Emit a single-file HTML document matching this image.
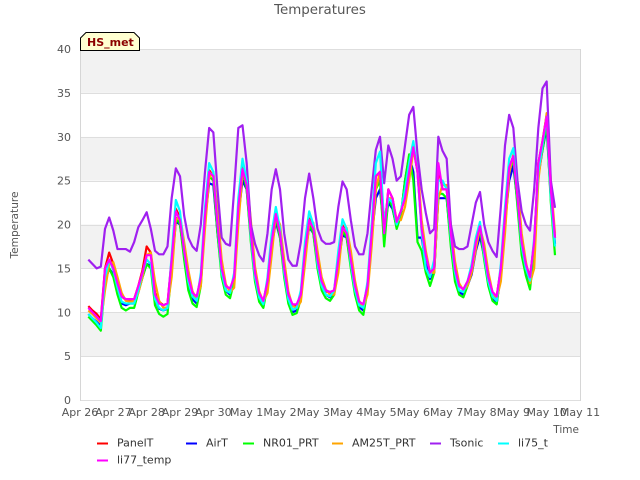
<!DOCTYPE html>
<html>
<head>
<meta charset="utf-8">
<title>Temperatures</title>
<style>
html,body{margin:0;padding:0;background:#fff;}
svg{display:block;font-family:"DejaVu Sans","Liberation Sans",sans-serif;}
</style>
</head>
<body>
<svg id="chart" width="640" height="480" viewBox="0 0 640 480" xmlns="http://www.w3.org/2000/svg">
  <text x="320" y="14" text-anchor="middle" font-size="13.4" fill="#555">Temperatures</text>
  <g id="bands"></g>
  <g id="grid"></g>
  <g id="series"></g>
  <g id="ticks" font-size="11" fill="#555"></g>
  <text x="0" y="0" transform="translate(18,225) rotate(-90)" text-anchor="middle" font-size="10.6" fill="#555">Temperature</text>
  <text x="579" y="433" text-anchor="end" font-size="10.5" fill="#555">Time</text>
  <g>
    <polygon points="80.5,50.5 80.5,38 86,32.5 134,32.5 139.5,38 139.5,50.5" fill="#ffffd0" stroke="#000" stroke-width="1"/>
    <text x="87" y="46" font-size="11" font-weight="bold" fill="#8b0000">HS_met</text>
  </g>
  <g id="legend" font-size="11" fill="#333"></g>
</svg>
<script>
var xTickLabels = ["Apr 26","Apr 27","Apr 28","Apr 29","Apr 30","May 1","May 2","May 3","May 4","May 5","May 6","May 7","May 8","May 9","May 10","May 11"];
var yTickValues = [0,5,10,15,20,25,30,35,40];
var seriesNames = ["PanelT","AirT","NR01_PRT","AM25T_PRT","Tsonic","li75_t","li77_temp"];
var seriesColors = ["#ff0000","#0000ff","#00ff00","#ffa500","#a020f0","#00ffff","#ff00ff"];
var firstSampleDay = 0.25;
var sampleStepDays = 0.125;

var panelT = [
10.7,10.2,9.8,9.2,15,16.8,15.5,13.3,11.8,11.4,
11.4,11.5,13,14.8,17.5,16.8,12.2,11.2,10.8,11,
16,21.8,20.8,17,13.8,12,11.6,14,21,26.2,
25.5,20,15,13,12.5,14,22,26.6,24.5,19,
14.5,12,11.2,13.5,18,21.5,19,15,12,10.8,
10.8,12,17,20.7,19.5,16,13.4,12.4,12.2,12.5,
16,19.9,19,16,13,11.1,10.8,13,19,25.5,
26,19,24,23,20.3,21.5,23,26,28.8,26,
19.5,16.5,14.5,15,26.5,24,24,19,15,13,
12.6,13.5,15,18,19.8,17,14,12.3,11.8,15,
21,26.5,27.8,23,18,15.5,14,18,27,29.5,
32.5,24,18.5];
var airT = [
9.8,9.3,8.9,8.4,13.5,15,14.3,12.5,11,10.8,
11,11,12.3,14,15.5,15.3,11.5,10.4,10.2,10.4,
15,20.3,20,16.5,13,11.5,11,13.5,20.5,24.7,
24.5,19,14.5,12.5,12,13.5,21,25,24,18.5,
14,11.6,10.9,13.2,17.5,20.3,18.5,14.5,11.5,10,
10.2,11.8,16.5,19.7,19,15.5,13,12,11.7,12.2,
15.5,18.8,18.5,15.5,12.5,10.6,10.2,12.7,18.5,23,
24,19.2,22.5,21.8,19.7,21,25,27.8,26,18.5,
18.5,15.5,13.8,14.5,23,23,23,18,14,12.3,
12,13,14.3,17,18.7,16.3,13.3,11.5,11,14.3,
20,25,26.7,22.5,17,14.8,13.3,17,25.5,28.5,
31,23,17.8];
var nr01 = [
9.5,9,8.5,7.9,13.5,15,14,12,10.5,10.2,
10.5,10.5,12.3,14,15.5,15,10.8,9.8,9.5,9.8,
15,20.8,20,16,12.5,11,10.6,13,20.5,25.5,
25,19,14,12,11.6,13.5,21,26,24,18,
13.5,11.2,10.5,13,17.5,20.8,18.5,14,11,9.7,
9.9,11.5,16.5,20,19,15,12.5,11.6,11.3,12,
15.5,19.3,18.5,15,12,10.2,9.7,12.5,18.5,24,
25,17.5,23,22,19.5,21,25,28,25,18,
17,14.5,13,14.5,23.5,23.5,23,17.5,13.5,12,
11.7,13,14.5,17.5,19.5,16,13,11.3,10.9,14.5,
20.5,26,27.5,22,16.5,14.2,12.6,17,26,28.5,
31.5,22.5,16.5];
var am25t = [
10.2,9.8,9.3,8.8,12.5,15.5,15.7,14,12.2,11.3,
11.2,11.3,12.2,14,16.5,16.8,13.5,11.3,10.5,10.6,
14,20.5,21,18,14.8,12.4,11.5,13,19.5,25.3,
26,21.5,16,13.2,12.3,12.8,20,25.8,25.5,20.5,
15.2,12.4,11.2,12.2,16.5,21,20,16,12.4,10.7,
10.5,11.2,15.5,20,20.2,17,14,12.6,12,12,
14.5,19.3,19.6,17,13.6,11.3,10.6,12,17.5,24,
26,20.5,23,23,20.5,20.5,22,25,28.4,27,
20.5,17,14.5,14.5,23,24.5,24.5,20,15.8,13.3,
12.5,13,14.5,17.2,19.6,17.8,14.6,12.3,11.5,13.5,
19,25.8,28,24.5,19,15.8,13.3,15,25,29,
32.7,25,19];
var tsonic = [
16,15.5,15,15.2,19.5,20.8,19.3,17.2,17.2,17.2,
16.9,18,19.7,20.5,21.4,19.5,17,16.6,16.6,17.5,
23,26.4,25.5,21,18.5,17.5,17,20,26,31,
30.5,24,18.5,17.8,17.6,24,31,31.3,27,20,
17.8,16.5,15.8,19,24,26.3,24,19,16,15.3,
15.3,18,23,25.8,23,19.5,18.2,17.8,17.8,18,
22,24.9,24,20.5,17.5,16.6,16.6,19,24,28.5,
30,24.7,29,27.5,25,25.5,29,32.5,33.4,28,
24,21.3,19,19.5,30,28.4,27.5,20,17.5,17.2,
17.2,17.5,20,22.5,23.7,20,18,17,16.3,22,
29,32.5,31,25,21.5,20,19.3,24,31,35.5,
36.3,25,21.9];
var li75 = [
9.8,9.3,8.8,8.2,14,16,14.8,12.8,11.2,11,
11,11,12.5,14.5,16,15.5,11.5,10.5,10.2,10.5,
16.5,22.8,21.5,17,13.5,11.8,11.3,14.5,22,27,
26,20,14.5,12.5,12.2,14.5,23,27.5,25,18.5,
14,11.7,10.9,14,19,22,19.5,14.5,11.5,10.3,
10.5,12.5,18,21.5,20,15.5,13,12,11.8,12.5,
17,20.6,19.5,15.5,12.5,10.8,10.5,13.5,20,27,
28.3,20,23,22.5,20,21.5,24,27,29.5,26,
19,15,14,16,25,25,24,18.5,14.5,12.5,
12.3,13.5,15.5,18.5,20.3,16.5,13.5,11.8,11.3,15.5,
22,27.5,28.7,23,17.5,15,13.6,18.5,26,29,
32.3,23,17.5];
var li77 = [
10.5,10,9.5,9,15,16,15,13.3,11.8,11.5,
11.5,11.5,13,14.5,16.5,16.5,12,11,10.8,11,
16,21.5,20.5,17,14,12.2,11.8,14,21,26,
25.5,20,15,13,12.7,14,22,26.3,24.5,19,
14.5,12.2,11.3,13.5,18,21.2,19,15,12,10.9,
10.9,12,17,20.5,19.5,16,13.5,12.5,12.3,12.5,
16,19.7,19,16,13,11.2,10.9,13,19,25.5,
26,19,24,23,20.3,21.5,23,26,28.8,26,
19.5,16.5,14.5,15,27,24,24,19,15,13,
12.6,13.5,15,18,19.8,17,14,12.3,11.8,15,
21,26.5,27.8,23,18,15.5,14,18,27,29.5,
32.3,24,18.5];
var seriesValues = [panelT, airT, nr01, am25t, tsonic, li75, li77];

var NS = "http://www.w3.org/2000/svg";
var plotLeft = 80, plotRight = 580, plotTop = 49, plotBottom = 400;
var dayMax = xTickLabels.length - 1;
var yMax = yTickValues[yTickValues.length - 1];
function xScale(day){ return plotLeft + day / dayMax * (plotRight - plotLeft); }
function yScale(v){ return plotBottom - v / yMax * (plotBottom - plotTop); }
function make(tag){ return document.createElementNS(NS, tag); }

var bands = document.getElementById("bands");
for (var b = 0; b < yTickValues.length - 1; b++) {
  var rect = make("rect");
  
  
  rect.setAttribute("x", plotLeft);
  rect.setAttribute("y", yScale(yTickValues[b + 1]));
  rect.setAttribute("width", plotRight - plotLeft);
  rect.setAttribute("height", yScale(yTickValues[b]) - yScale(yTickValues[b + 1]));
  rect.setAttribute("fill", b % 2 === 1 ? "#f2f2f2" : "#ffffff");
  bands.appendChild(rect);
}

var grid = document.getElementById("grid");
for (var g = 0; g < yTickValues.length; g++) {
  var gl = make("line");
  
  
  var gy = Math.round(yScale(yTickValues[g])) + 0.5;
  gl.setAttribute("x1", plotLeft);
  gl.setAttribute("x2", plotRight);
  gl.setAttribute("y1", gy);
  gl.setAttribute("y2", gy);
  gl.setAttribute("stroke", "#dedede");
  grid.appendChild(gl);
}
var leftAxis = make("line");


leftAxis.setAttribute("x1", plotLeft + 0.5);
leftAxis.setAttribute("x2", plotLeft + 0.5);
leftAxis.setAttribute("y1", plotTop);
leftAxis.setAttribute("y2", plotBottom + 1);
leftAxis.setAttribute("stroke", "#d6d6d6");
grid.appendChild(leftAxis);
var rightAxis = make("line");


rightAxis.setAttribute("x1", plotRight + 0.5);
rightAxis.setAttribute("x2", plotRight + 0.5);
rightAxis.setAttribute("y1", plotTop);
rightAxis.setAttribute("y2", plotBottom + 1);
rightAxis.setAttribute("stroke", "#d6d6d6");
grid.appendChild(rightAxis);

var seriesGroup = document.getElementById("series");
for (var s = 0; s < seriesValues.length; s++) {
  var pts = [];
  for (var i = 0; i < seriesValues[s].length; i++) {
    var day = firstSampleDay + i * sampleStepDays;
    pts.push(xScale(day).toFixed(2) + "," + yScale(seriesValues[s][i]).toFixed(2));
  }
  var pl = make("polyline");
  
  
  pl.setAttribute("points", pts.join(" "));
  pl.setAttribute("fill", "none");
  pl.setAttribute("stroke", seriesColors[s]);
  pl.setAttribute("stroke-width", "2.2");
  pl.setAttribute("stroke-linejoin", "round");
  seriesGroup.appendChild(pl);
}

var ticks = document.getElementById("ticks");
for (var t = 0; t < yTickValues.length; t++) {
  var yt = make("text");
  
  
  yt.setAttribute("x", 71);
  yt.setAttribute("y", yScale(yTickValues[t]) + 4);
  yt.setAttribute("text-anchor", "end");
  yt.textContent = yTickValues[t];
  ticks.appendChild(yt);
}
for (var d = 0; d < xTickLabels.length; d++) {
  var xt = make("text");
  
  
  xt.setAttribute("x", xScale(d));
  xt.setAttribute("y", 416);
  xt.setAttribute("text-anchor", "middle");
  xt.textContent = xTickLabels[d];
  ticks.appendChild(xt);
}

var legendLineX = [97,186,243,332,430,498,97];
var legendRowY = [443.5,443.5,443.5,443.5,443.5,443.5,460.5];
var legend = document.getElementById("legend");
for (var k = 0; k < seriesNames.length; k++) {
  var ll = make("line");
  
  
  ll.setAttribute("x1", legendLineX[k]);
  ll.setAttribute("x2", legendLineX[k] + 11);
  ll.setAttribute("y1", legendRowY[k]);
  ll.setAttribute("y2", legendRowY[k]);
  ll.setAttribute("stroke", seriesColors[k]);
  ll.setAttribute("stroke-width", "2");
  legend.appendChild(ll);
  var lt = make("text");
  
  
  lt.setAttribute("x", legendLineX[k] + 20);
  lt.setAttribute("y", legendRowY[k] + 3);
  lt.textContent = seriesNames[k];
  legend.appendChild(lt);
}
</script>
</body>
</html>
